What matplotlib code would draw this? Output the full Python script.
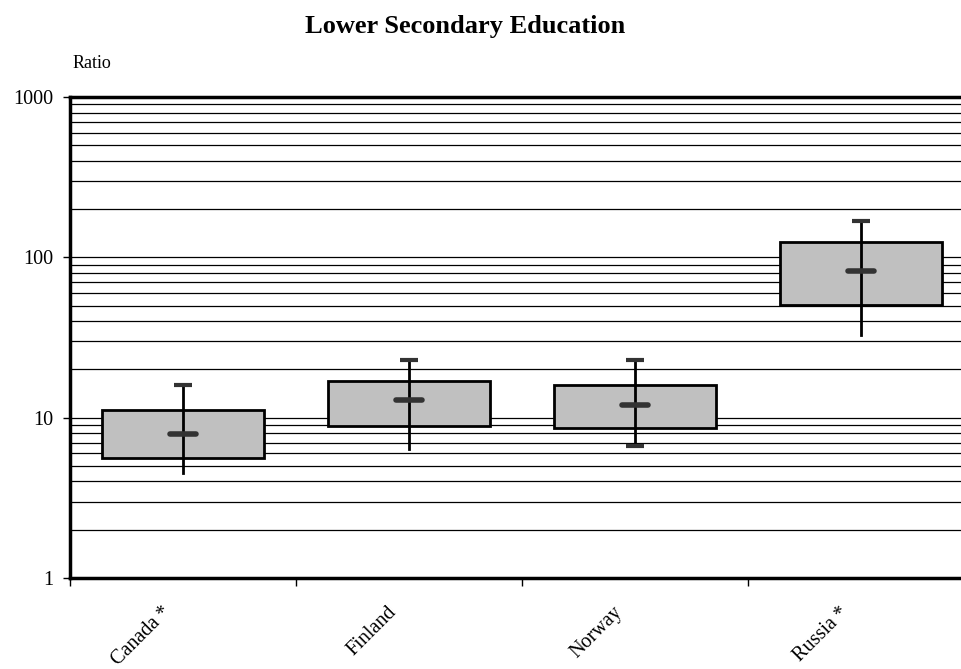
import matplotlib
matplotlib.use("Agg")
import matplotlib.pyplot as plt
import numpy as np
from matplotlib.ticker import FixedLocator, NullFormatter
from matplotlib.transforms import ScaledTranslation

categories = ["Canada *", "Finland", "Norway", "Russia *"]
box_low = [5.6, 8.9, 8.6, 50.5]
box_high = [11.1, 16.9, 16.0, 125.0]
median = [7.95, 12.8, 12.0, 82.0]
whisk_low = [4.5, 6.4, 6.7, 32.8]
whisk_high = [15.9, 22.9, 23.0, 168.0]
low_cap = [False, False, True, False]

plt.rcParams['font.family'] = ['Liberation Serif', 'DejaVu Serif']

fig = plt.figure(figsize=(9.61, 6.69), dpi=100)
ax = fig.add_axes([70/961, 1-578/669, (961-70)/961, (578-97)/669])
ax.set_yscale('log')
ax.set_ylim(1, 1000)
ax.set_xlim(0, (961-70)/226)

# gridlines at all minor positions and decades
grid_vals = []
for dec in [1, 10, 100]:
    for m in range(1, 10):
        v = m*dec
        if v > 1:
            grid_vals.append(v)
for v in grid_vals:
    ax.axhline(v, color='black', lw=0.9, zorder=1)

bw = 162/226
cw = 18/226
mw = 26/226
for i, c in enumerate(categories):
    x = i + 0.5
    ax.bar(x, box_high[i]-box_low[i], bottom=box_low[i], width=bw,
           color='#C0C0C0', edgecolor='black', linewidth=2, zorder=2)
    ax.plot([x, x], [whisk_low[i], whisk_high[i]], color='black', lw=2, zorder=3)
    ax.plot([x-cw/2, x+cw/2], [whisk_high[i]]*2, color='#333333', lw=3, zorder=3,
            solid_capstyle='butt')
    if low_cap[i]:
        ax.plot([x-cw/2, x+cw/2], [whisk_low[i]]*2, color='#333333', lw=3, zorder=3,
                solid_capstyle='butt')
    ax.plot([x-mw/2, x+mw/2], [median[i]]*2, color='#333333', lw=4, zorder=4,
            solid_capstyle='round')

ax.spines['right'].set_visible(False)
ax.spines['top'].set_linewidth(2.5)
ax.spines['left'].set_linewidth(2.5)
ax.spines['bottom'].set_linewidth(2.5)

ax.yaxis.set_major_locator(FixedLocator([1, 10, 100, 1000]))
ax.yaxis.set_minor_locator(FixedLocator([]))
ax.yaxis.set_minor_formatter(NullFormatter())
ax.set_yticklabels(['1', '10', '100', '1000'])
ax.tick_params(axis='y', direction='out', length=5, width=1, labelsize=14.5, pad=7)

ax.xaxis.set_major_locator(FixedLocator([0, 1, 2, 3]))
ax.set_xticklabels([])
ax.xaxis.set_minor_locator(FixedLocator([0.5, 1.5, 2.5, 3.5]))
ax.set_xticklabels(categories, minor=True, rotation=45, ha='right', va='top',
                   rotation_mode='anchor', fontsize=14.5)
ax.tick_params(axis='x', which='major', direction='out', length=6, width=1)
ax.tick_params(axis='x', which='minor', length=0, pad=18)
shift = ScaledTranslation(-22/100, 0, fig.dpi_scale_trans)
for lbl in ax.get_xticklabels(minor=True):
    lbl.set_transform(lbl.get_transform() + shift)

fig.text(465/961, 1-27/669, "Lower Secondary Education", ha='center', va='center',
         fontsize=19, fontweight='bold')
fig.text(73/961, 1-63/669, "Ratio", ha='left', va='center', fontsize=13)

fig.savefig("out.png", dpi=100)
